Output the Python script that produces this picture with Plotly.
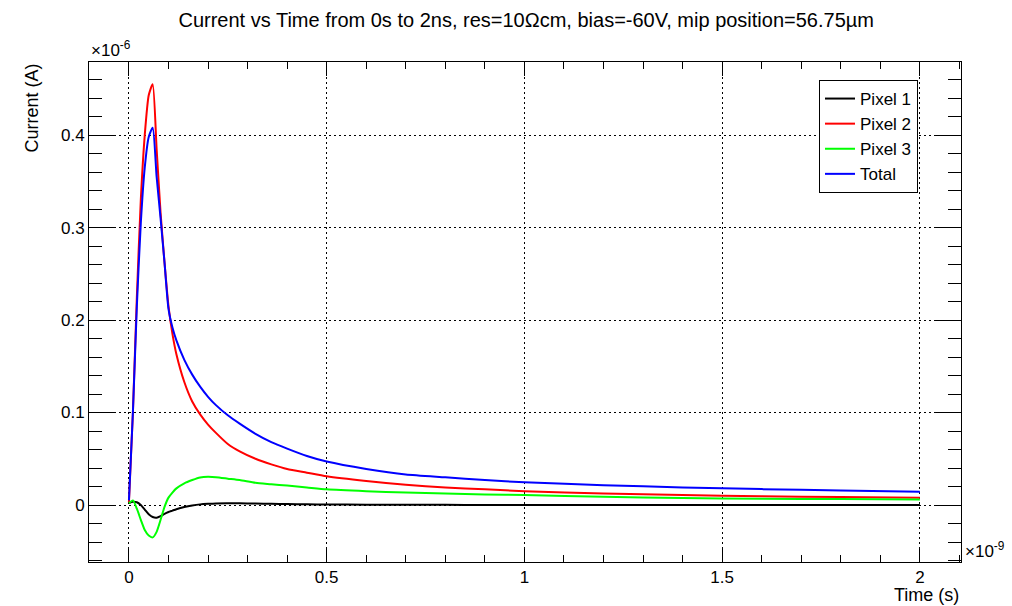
import plotly.graph_objects as go

# Time in units of 1e-9 s (ns), current in units of 1e-6 A (uA)
time_ns = [0, 0.01, 0.02, 0.03, 0.04, 0.05, 0.06, 0.07, 0.08, 0.09, 0.10, 0.11, 0.12, 0.14,
           0.16, 0.18, 0.20, 0.22, 0.25, 0.28, 0.32, 0.36, 0.40, 0.45, 0.50, 0.60,
           0.70, 0.80, 0.90, 1.0, 1.2, 1.4, 1.6, 1.8, 2.0]

pixel1 = [0.002, 0.0035, 0.003, 0.0, -0.005, -0.010, -0.013, -0.0137, -0.012, -0.0095,
          -0.0075, -0.006, -0.0045, -0.0022, -0.0005, 0.0007, 0.0013, 0.0017, 0.0018, 0.0018,
          0.0016, 0.0013, 0.001, 0.0008, 0.0006, 0.0004, 0.0003, 0.0002, 0.0001, 0.0001,
          0.0, 0.0, 0.0, 0.0, 0.0]

pixel2 = [0.003, 0.10, 0.225, 0.33, 0.40, 0.443, 0.455, 0.385, 0.316, 0.262, 0.215,
          0.185, 0.163, 0.133, 0.112, 0.098, 0.087, 0.078, 0.066, 0.058, 0.050, 0.044, 0.039,
          0.035, 0.031, 0.026, 0.022, 0.019, 0.017, 0.015, 0.0125, 0.0108, 0.0095,
          0.0086, 0.0079]

pixel3 = [0.002, 0.005, -0.004, -0.016, -0.027, -0.033, -0.035, -0.029, -0.016, -0.002,
          0.008, 0.0135, 0.018, 0.0235, 0.027, 0.0298, 0.0305, 0.030, 0.0285, 0.027, 0.024,
          0.0225, 0.021, 0.019, 0.017, 0.015, 0.0135, 0.0125, 0.0115, 0.0108, 0.009,
          0.0075, 0.0068, 0.0064, 0.0061]

total = [0.005, 0.10, 0.215, 0.305, 0.365, 0.398, 0.408, 0.355, 0.31, 0.262, 0.212,
         0.192, 0.178, 0.157, 0.141, 0.128, 0.117, 0.108, 0.097, 0.088, 0.077, 0.068, 0.061,
         0.053, 0.047, 0.039, 0.033, 0.030, 0.027, 0.0245, 0.0215, 0.019, 0.0172,
         0.0157, 0.0144]

series_names = ["Pixel 1", "Pixel 2", "Pixel 3", "Total"]
series_colors = ["#000000", "#ff0000", "#00ff00", "#0000ff"]
series_values = [pixel1, pixel2, pixel3, total]

FONT = "Liberation Sans, Arial, Helvetica, sans-serif"

fig = go.Figure()
for name, color, vals in zip(series_names, series_colors, series_values):
    fig.add_trace(go.Scatter(x=time_ns, y=vals, mode="lines", name=name,
                             line=dict(color=color, width=2, shape="spline", smoothing=0.6)))

axis_common = dict(
    showline=True, linecolor="black", linewidth=1, mirror="allticks",
    ticks="inside", tickcolor="black", tickwidth=1,
    showgrid=True, gridcolor="black", gridwidth=1, griddash="2px,3px",
    zeroline=False, tickfont=dict(family=FONT, size=17, color="black"),
)

fig.update_xaxes(range=[-0.101, 2.104], dtick=0.5, tick0=0, ticklen=14,
                 minor=dict(dtick=0.1, tick0=0, ticks="inside", ticklen=7,
                            tickcolor="black", showgrid=False),
                 **axis_common)
fig.update_yaxes(range=[-0.0616, 0.479], dtick=0.1, tick0=0, ticklen=26,
                 minor=dict(dtick=0.02, tick0=0, ticks="inside", ticklen=13,
                            tickcolor="black", showgrid=False),
                 **axis_common)

fig.update_layout(
    width=1012, height=606,
    margin=dict(l=89, r=51, t=62, b=44, autoexpand=False),
    plot_bgcolor="white", paper_bgcolor="white",
    font=dict(family=FONT, size=17, color="black"),
    title=dict(text="Current vs Time from 0s to 2ns, res=10\u03a9cm, bias=-60V, mip position=56.75\u00b5m",
               x=0.52, xref="container", xanchor="center", y=0.967, yanchor="middle",
               font=dict(family=FONT, size=20, color="black")),
    legend=dict(x=0.9507, xanchor="right", y=0.964, yanchor="top",
                bgcolor="white", bordercolor="black", borderwidth=1,
                font=dict(family=FONT, size=17, color="black"),
                itemwidth=30, tracegroupgap=0),
    showlegend=True,
)

fig.add_annotation(text="\u00d710<sup>-6</sup>", xref="paper", yref="paper", x=0, y=1,
                   xanchor="left", yanchor="bottom", showarrow=False,
                   font=dict(family=FONT, size=17, color="black"))
fig.add_annotation(text="\u00d710<sup>-9</sup>", xref="paper", yref="paper", x=1, y=0,
                   xanchor="left", yanchor="middle", yshift=12, xshift=2, showarrow=False,
                   font=dict(family=FONT, size=17, color="black"))
fig.add_annotation(text="Current (A)", xref="paper", yref="paper", x=0, y=1,
                   xanchor="right", yanchor="top", xshift=-46, textangle=-90, showarrow=False,
                   font=dict(family=FONT, size=18, color="black"))
fig.add_annotation(text="Time (s)", xref="paper", yref="paper", x=1, y=0,
                   xanchor="right", yanchor="top", yshift=-21, showarrow=False,
                   font=dict(family=FONT, size=18, color="black"))

fig.write_html("out.html", config={"displayModeBar": False},
               post_script="document.body.style.margin='0px';")
